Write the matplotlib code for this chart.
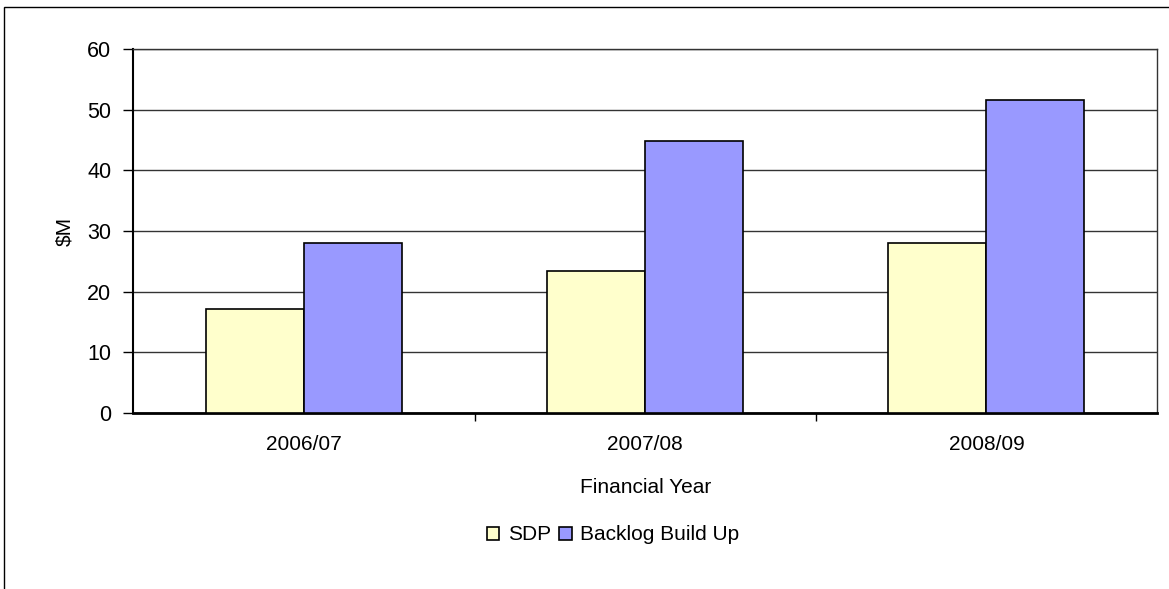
import matplotlib.pyplot as plt
from matplotlib.patches import Rectangle
import numpy as np

plt.rcParams['font.family'] = ['Liberation Sans', 'DejaVu Sans']

years = ["2006/07", "2007/08", "2008/09"]
sdp = [17.1, 23.4, 28.0]
backlog = [28.0, 44.9, 51.7]

fig = plt.figure(figsize=(11.69, 5.89), dpi=100)
ax = fig.add_axes([0.1142, 0.2993, 0.8755, 0.6170])

# marco exterior del grafico
fig.patches.append(Rectangle((4 / 1169, -0.1), 1.2, 1.1 - 7 / 589, transform=fig.transFigure,
                             fill=False, edgecolor="black", linewidth=1.0))

x = np.arange(len(years))
w = 0.287
ax.bar(x - w / 2, sdp, w, color="#FFFFCC", edgecolor="black", linewidth=1.2, label="SDP", zorder=3)
ax.bar(x + w / 2, backlog, w, color="#9999FF", edgecolor="black", linewidth=1.2, label="Backlog Build Up", zorder=3)

ax.set_xlim(-0.5, 2.5)
ax.set_ylim(0, 60)
ax.set_yticks(range(0, 61, 10))
ax.yaxis.grid(True, color="#333333", linewidth=1.0, zorder=0)

ax.set_xticks(x)
ax.set_xticklabels(years, fontsize=15)
ax.tick_params(axis="x", length=0, pad=16)
ax.set_xticks([0.5, 1.5], minor=True)
ax.tick_params(axis="x", which="minor", length=6, width=1, color="black")
ax.tick_params(axis="y", length=7, width=1, labelsize=15.5, pad=9)

for s in ["top", "right"]:
    ax.spines[s].set_color("#333333")
    ax.spines[s].set_linewidth(1.0)
ax.spines["left"].set_linewidth(1.5)
ax.spines["bottom"].set_linewidth(2.0)

ax.set_xlabel("Financial Year", fontsize=15, labelpad=17)
ax.set_ylabel("$M", fontsize=15, labelpad=9)

fig.legend(loc="center", bbox_to_anchor=(613 / 1169, 1 - 535 / 589), ncol=2, frameon=False,
           fontsize=15, handlelength=0.6, handleheight=0.6, handletextpad=0.4,
           columnspacing=0.4)

fig.savefig("out.png", dpi=100)
